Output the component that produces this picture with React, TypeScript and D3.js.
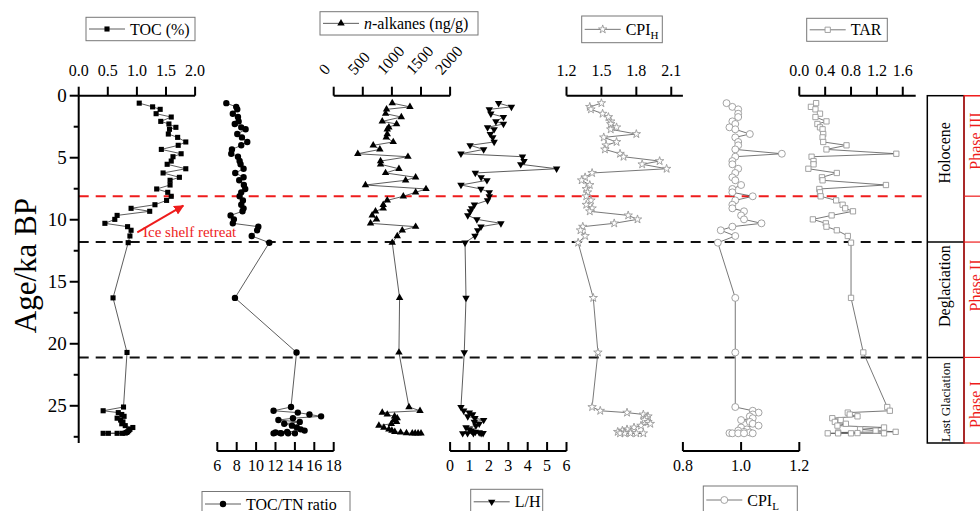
import React from 'react';
import * as d3 from 'd3';

// ---------- DATA ----------
const ages = [0.6,0.9,1.1,1.45,1.72,2.07,2.28,2.55,2.71,3.09,3.36,3.73,4.0,4.33,4.68,4.92,5.27,5.53,5.89,6.23,6.58,6.82,7.2,7.52,7.79,8.11,8.44,8.79,9.08,9.32,9.65,9.97,10.29,10.56,10.85,11.31,11.85,
  16.3,20.7,
  25.1,25.4,25.55,25.7,25.85,26.0,26.15,26.3,26.45,26.6,26.75,26.9,27.0,27.1,27.15,27.2,27.22,27.22,27.22,27.22];

const toc = [1.04,1.27,1.40,1.33,1.59,1.41,1.55,1.67,1.56,1.54,1.70,1.84,1.71,1.42,1.76,1.62,1.59,1.52,1.84,1.45,1.73,1.57,1.57,1.34,1.53,1.59,1.51,1.31,0.90,1.22,0.66,0.62,0.45,0.84,0.90,0.88,0.85,
  0.59,0.83,
  0.77,0.42,0.68,0.74,0.78,0.66,0.72,0.76,0.74,0.80,0.93,0.88,0.86,0.84,0.82,0.80,0.42,0.51,0.66,0.75];

const tocTn = [6.93,7.95,8.06,7.6,8.13,8.2,7.8,8.47,8.92,8.06,8.54,9.09,8.47,7.51,7.44,8.13,8.3,8.4,8.71,7.85,8.71,8.26,8.74,8.88,8.47,8.3,8.64,8.47,8.71,8.6,7.37,7.71,7.6,10.23,10.1,9.55,11.36,
  7.82,14.17,
  13.6,11.8,14.3,15.5,16.7,13.8,12.3,14.5,12.9,13.7,14.2,14.6,15.0,13.2,12.0,12.5,11.8,12.6,13.3,14.0];

const nAlkanes = [1006,1310,908,892,1162,834,1081,948,920,920,903,1023,679,793,414,1276,805,805,1121,891,1408,1236,546,1586,1408,1196,920,851,851,718,661,736,633,1408,1178,1092,1006,
  1132,1121,
  1293,1483,834,920,1046,1092,1035,1081,990,776,862,948,1000,1050,1150,1250,1350,1450,1500,1400];

const lh = [2.5,3.16,2.02,2.1,2.75,2.36,2.75,1.93,2.27,2.07,2.2,2.27,1.03,1.73,0.56,3.73,3.81,3.64,5.49,1.3,1.6,1.9,0.56,1.59,2.02,2.02,1.93,1.25,1.11,1.04,0.91,1.38,2.62,1.59,1.42,1.28,0.77,
  0.82,0.73,
  0.56,0.7,0.99,1.16,0.91,1.28,1.73,1.25,1.5,1.33,0.82,0.99,1.1,1.3,1.5,1.7,0.65,0.9,1.2,1.6];

const cpiH = [1.50,1.40,1.41,1.51,1.56,1.58,1.58,1.63,1.58,1.80,1.52,1.63,1.54,1.53,1.66,1.69,2.0,1.85,2.06,1.42,1.36,1.33,1.40,1.37,1.38,1.37,1.41,1.37,1.42,1.40,1.73,1.81,1.61,1.34,1.32,1.36,1.30,
  1.43,1.47,
  1.42,1.49,1.72,1.86,1.9,1.89,1.87,1.9,1.92,1.84,1.78,1.72,1.68,1.64,1.7,1.75,1.80,1.86,1.70,1.66];

const cpiL = [0.95,0.97,0.99,0.99,0.99,0.97,0.98,0.96,0.98,1.03,0.98,0.99,0.99,0.98,1.14,0.98,0.97,0.97,0.99,0.98,0.97,0.98,1.0,0.97,0.97,1.04,0.98,0.97,0.97,1.01,1.0,1.01,1.07,0.97,0.93,0.98,0.92,
  0.98,0.98,
  0.98,1.04,1.06,1.04,1.03,1.04,1.0,1.03,1.04,1.06,1.0,1.02,0.99,1.01,1.03,0.96,0.97,0.99,1.01,1.04];

const tar = [0.26,0.18,0.25,0.32,0.25,0.42,0.28,0.32,0.36,0.37,0.36,0.37,0.73,0.42,1.5,0.19,0.22,0.22,0.14,0.58,0.35,0.36,1.34,0.31,0.32,0.33,0.57,0.67,0.71,0.83,0.5,0.21,0.41,0.42,0.58,0.75,0.80,
  0.80,0.99,
  1.36,1.40,0.75,0.78,0.90,0.51,0.64,0.55,0.72,0.59,1.31,0.94,1.18,1.49,0.6,0.9,0.44,0.6,0.8,1.31];

const ageTicks = ['0', '5', '10', '15', '20', '25'];
const ageMinorTicks = [2.5, 7.5, 12.5, 17.5, 22.5, 27.5];
const tocTicks = ['0.0', '0.5', '1.0', '1.5', '2.0'];
const tocTnTicks = ['6', '8', '10', '12', '14', '16', '18'];
const nAlkTicks = ['0', '500', '1000', '1500', '2000'];
const lhTicks = ['0', '1', '2', '3', '4', '5', '6'];
const cpiHTicks = ['1.2', '1.5', '1.8', '2.1'];
const cpiLTicks = ['0.8', '1.0', '1.2'];
const tarTicks = ['0.0', '0.4', '0.8', '1.2', '1.6'];

const boundaryRed = 8.1;
const boundaries = [11.8, 21.1];
const periods = [
  { name: 'Holocene', center: 4.6, size: 16 },
  { name: 'Deglaciation', center: 15.35, size: 16 },
  { name: 'Last Glaciation', center: 24.7, size: 13 },
];
const phases = [
  { name: 'Phase III', from: 0, center: 3.65 },
  { name: '', from: 8.1, center: 10 },
  { name: 'Phase II', from: 11.8, center: 15.3 },
  { name: 'Phase I', from: 21.1, center: 24.9 },
];

// ---------- LAYOUT ----------
const FONT = "'Liberation Serif', 'Times New Roman', serif";
const Y0 = 95.7;
const Y1 = 443;
const yScale = d3.scaleLinear().domain([0, 28]).range([Y0, Y1]);
const PW = 116.4;
const BOTTOM_AXIS_Y = 451;
const RED = '#ee1c1c';

type Panel = {
  values: number[];
  domain: [number, number];
  x0: number;
  ticks: string[];
  axis: 'top' | 'bottom';
  symbol: any;
  size: number;
  rotate?: number;
  fill: string;
  stroke: string;
  lineColor: string;
  rotLabels?: boolean;
};

const panels: Panel[] = [
  { values: toc, domain: [0, 2], x0: 78.7, ticks: tocTicks, axis: 'top', symbol: d3.symbolSquare, size: 26, fill: '#000', stroke: 'none', lineColor: '#333' },
  { values: tocTn, domain: [6, 18], x0: 217.3, ticks: tocTnTicks, axis: 'bottom', symbol: d3.symbolCircle, size: 32, fill: '#000', stroke: 'none', lineColor: '#333' },
  { values: nAlkanes, domain: [0, 2000], x0: 217.3 + PW, ticks: nAlkTicks, axis: 'top', symbol: d3.symbolTriangle, size: 24, fill: '#000', stroke: 'none', lineColor: '#333', rotLabels: true },
  { values: lh, domain: [0, 6], x0: 217.3 + 2 * PW, ticks: lhTicks, axis: 'bottom', symbol: d3.symbolTriangle, size: 24, rotate: 180, fill: '#000', stroke: 'none', lineColor: '#333' },
  { values: cpiH, domain: [1.2, 2.2], x0: 217.3 + 3 * PW, ticks: cpiHTicks, axis: 'top', symbol: d3.symbolStar, size: 22, fill: '#fff', stroke: '#999', lineColor: '#555' },
  { values: cpiL, domain: [0.8, 1.2], x0: 217.3 + 4 * PW, ticks: cpiLTicks, axis: 'bottom', symbol: d3.symbolCircle, size: 38, fill: '#fff', stroke: '#999', lineColor: '#555' },
  { values: tar, domain: [0, 1.8], x0: 217.3 + 5 * PW, ticks: tarTicks, axis: 'top', symbol: d3.symbolSquare, size: 28, fill: '#fff', stroke: '#999', lineColor: '#555' },
];

function PanelView({ p }: { p: Panel }) {
  const x = d3.scaleLinear().domain(p.domain).range([p.x0, p.x0 + PW]);
  const pts = p.values.map((v, i) => [x(v), yScale(ages[i])] as [number, number]);
  const line = d3.line()(pts) || '';
  const sym = d3.symbol().type(p.symbol).size(p.size)() || '';
  const axisY = p.axis === 'top' ? Y0 : BOTTOM_AXIS_Y;
  return (
    <g>
      <path d={line} fill="none" stroke={p.lineColor} strokeWidth={0.8} />
      {pts.map((pt, i) => (
        <path key={i} d={sym} transform={`translate(${pt[0]},${pt[1]})${p.rotate ? ` rotate(${p.rotate})` : ''}`}
          fill={p.fill} stroke={p.stroke} strokeWidth={0.9} />
      ))}
      <line x1={x.range()[0]} x2={x.range()[1]} y1={axisY} y2={axisY} stroke="#000" strokeWidth={2} />
      {p.ticks.map((t) => {
        const tx = x(+t);
        return (
          <g key={t}>
            <line x1={tx} x2={tx} y1={axisY} y2={axisY - 9} stroke="#000" strokeWidth={2} />
            {p.rotLabels ? (
              <text transform={`translate(${tx - 8},${axisY - 20}) rotate(-48)`} fontSize={16} fontFamily={FONT} textAnchor="start">{t}</text>
            ) : (
              <text x={tx} y={p.axis === 'top' ? axisY - 20 : axisY + 20} fontSize={16} fontFamily={FONT} textAnchor="middle">{t}</text>
            )}
          </g>
        );
      })}
    </g>
  );
}

function LegendItem({ x, y, w, h, p, label, sub, italicN }: any) {
  const sym = d3.symbol().type(p.symbol).size(p.size)() || '';
  const cy = y + h / 2;
  return (
    <g>
      <rect x={x} y={y} width={w} height={h} fill="#fff" stroke="#777" strokeWidth={1} />
      <line x1={x + 3} x2={x + 39} y1={cy} y2={cy} stroke={p.lineColor} strokeWidth={0.8} />
      <path d={sym} transform={`translate(${x + 21},${cy})${p.rotate ? ` rotate(${p.rotate})` : ''}`} fill={p.fill} stroke={p.stroke} strokeWidth={0.9} />
      <text x={x + 44} y={cy + 5.5} fontSize={16} fontFamily={FONT}>
        {italicN ? <tspan fontStyle="italic">n</tspan> : null}
        {label}
        {sub ? <tspan fontSize={11} dy={4}>{sub}</tspan> : null}
      </text>
    </g>
  );
}

export default function App() {
  const xL = 78.7;
  const boxL = 927.3, boxM = 964, boxR = 990;
  return (
    <svg width={980} height={511} style={{ position: 'absolute', left: 0, top: 0, background: '#fff' }}>
      <rect x={0} y={0} width={980} height={511} fill="#fff" />
      {/* dashed boundaries */}
      <line x1={xL} x2={boxL} y1={yScale(boundaryRed)} y2={yScale(boundaryRed)} stroke={RED} strokeWidth={2} strokeDasharray="10,7" />
      {boundaries.map((b) => (
        <line key={b} x1={xL} x2={boxL} y1={yScale(b)} y2={yScale(b)} stroke="#111" strokeWidth={2} strokeDasharray="10,7" />
      ))}

      {/* left age axis */}
      <line x1={xL} x2={xL} y1={Y0} y2={Y1} stroke="#000" strokeWidth={2} />
      {ageTicks.map((t) => (
        <g key={t}>
          <line x1={xL - 9} x2={xL} y1={yScale(+t)} y2={yScale(+t)} stroke="#000" strokeWidth={2} />
          <text x={xL - 12} y={yScale(+t) + 6.5} fontSize={19} fontFamily={FONT} textAnchor="end">{t}</text>
        </g>
      ))}
      {ageMinorTicks.map((t) => (
        <line key={t} x1={xL - 5} x2={xL} y1={yScale(t)} y2={yScale(t)} stroke="#000" strokeWidth={2} />
      ))}
      <text transform={`translate(36,${yScale(13.7)}) rotate(-90)`} fontSize={31} fontFamily={FONT} textAnchor="middle">Age/ka BP</text>

      {panels.map((p, i) => <PanelView key={i} p={p} />)}

      {/* annotation */}
      <defs>
        <marker id="arr" viewBox="0 0 10 10" refX="9" refY="5" markerWidth="5" markerHeight="5" orient="auto">
          <path d="M0,0 L10,5 L0,10 z" fill={RED} />
        </marker>
      </defs>
      <line x1={137.3} y1={232.3} x2={183.3} y2={205.7} stroke={RED} strokeWidth={2} markerEnd="url(#arr)" />
      <text x={143} y={237} fontSize={15} fontFamily={FONT} fill={RED}>Ice shelf retreat</text>

      {/* period boxes */}
      <rect x={boxL} y={Y0} width={boxM - boxL} height={Y1 - Y0} fill="none" stroke="#000" strokeWidth={1.5} />
      {boundaries.map((b) => (
        <line key={'pb' + b} x1={boxL} x2={boxM} y1={yScale(b)} y2={yScale(b)} stroke="#000" strokeWidth={1.5} />
      ))}
      {periods.map((pr) => (
        <text key={pr.name} transform={`translate(${boxL + 23},${yScale(pr.center)}) rotate(-90)`} fontSize={pr.size} fontFamily={FONT} textAnchor="middle">{pr.name}</text>
      ))}
      <rect x={boxM} y={Y0} width={boxR - boxM} height={Y1 - Y0} fill="none" stroke={RED} strokeWidth={1.2} />
      {phases.map((ph, i) => (
        <g key={i}>
          <line x1={boxM} x2={boxR} y1={yScale(ph.from)} y2={yScale(ph.from)} stroke={RED} strokeWidth={1.2} />
          {ph.name ? (
            <text transform={`translate(981,${yScale(ph.center)}) rotate(-90)`} fontSize={16} fontFamily={FONT} textAnchor="middle" fill={RED}>{ph.name}</text>
          ) : null}
        </g>
      ))}

      {/* legends */}
      <LegendItem x={86} y={17.3} w={109} h={23.4} p={panels[0]} label="TOC (%)" />
      <LegendItem x={320} y={11.7} w={158} h={23.3} p={panels[2]} label="-alkanes (ng/g)" italicN />
      <LegendItem x={581.7} y={16} w={80.6} h={26.7} p={panels[4]} label="CPI" sub="H" />
      <LegendItem x={806.7} y={18.3} w={80.6} h={23} p={panels[6]} label="TAR" />
      <LegendItem x={202} y={491.5} w={148} h={25} p={panels[1]} label="TOC/TN ratio" />
      <LegendItem x={470.7} y={489.3} w={72} h={25} p={panels[3]} label="L/H" />
      <LegendItem x={703.3} y={486} w={94} h={28} p={panels[5]} label="CPI" sub="L" />
    </svg>
  );
}
